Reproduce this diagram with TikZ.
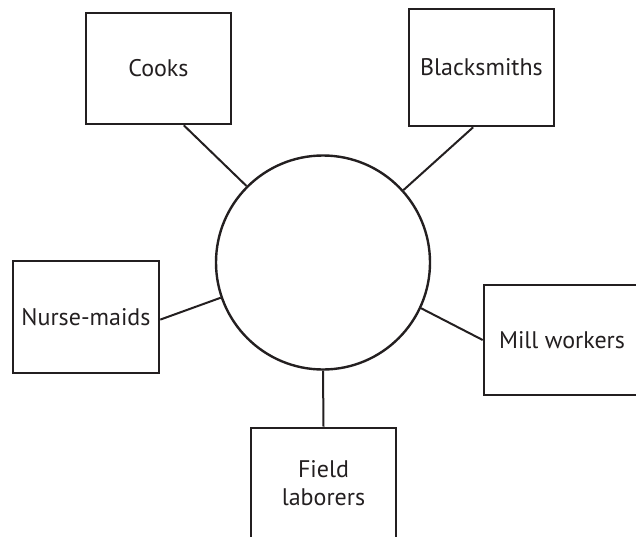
\documentclass[tikz,border=0pt]{standalone}
\usepackage{fontspec}
\setmainfont{PT Sans}
\usetikzlibrary{positioning}
\definecolor{ink}{HTML}{231F20}

\begin{document}
\begin{tikzpicture}[
  x=1pt,y=-1pt,
  every node/.style={text=ink,font=\fontsize{24}{28}\selectfont},
  job/.style={draw=ink,line width=2.6pt,rectangle,inner sep=0pt,
    minimum width=145pt,minimum height=111pt,align=center},
  hubcircle/.style={draw=ink,line width=2.4pt,circle,inner sep=0pt,minimum size=214pt},
  every path/.style={line width=2pt,draw=ink},
  ]
  \useasboundingbox[draw=none] (0,0) rectangle (636,536);
  \node[hubcircle](hub) at (323,262.5){};
  \node[job](cooks) at (158.5,68.5){Cooks};
  \node[job,minimum height=117pt](smiths) at (481.5,67.5){Blacksmiths};
  \node[job,minimum width=146pt,minimum height=112pt](nurse) at (86,317){Nurse-maids};
  \node[job,minimum width=156pt,minimum height=110pt](mill) at (562,340){Mill workers};
  \node[job,minimum height=110pt](field) at (323.5,483){Field\\laborers};
  \path
  (hub.135) edge (cooks.-66)
  (hub.42) edge (smiths.-98)
  (hub.199.5) edge (nurse.-2)
  (hub.-25) edge (mill.west)
  (hub.-90) edge (field.north);
\end{tikzpicture}
\end{document}
